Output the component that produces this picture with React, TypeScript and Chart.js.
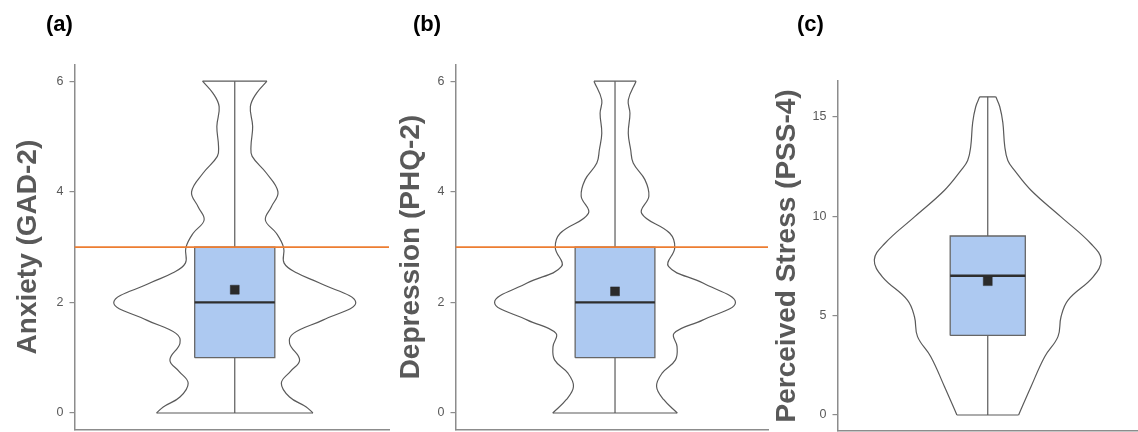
import React, { useEffect, useRef } from "react";
import { Chart, registerables } from "chart.js";

Chart.register(...registerables);
Chart.defaults.font.family = '"Liberation Sans", Arial, sans-serif';

// ---------- data ----------
// violin outlines: y values and relative density width (1 = widest point)
const anxietyDensityY = [0, 0.11, 0.29, 0.54, 0.75, 0.96, 1.26, 1.44, 1.68, 2.0, 2.35, 2.53, 2.71, 2.99, 3.25, 3.49, 3.73, 4.0, 4.34, 4.64, 4.82, 5.18, 5.54, 5.78, 6.0];
const anxietyDensityW = [0.646, 0.591, 0.453, 0.385, 0.459, 0.536, 0.453, 0.486, 0.728, 1.0, 0.701, 0.515, 0.408, 0.404, 0.344, 0.253, 0.303, 0.357, 0.261, 0.144, 0.134, 0.148, 0.129, 0.179, 0.266];

const depressionDensityY = [0, 0.24, 0.48, 0.72, 0.96, 1.2, 1.44, 1.68, 2.0, 2.35, 2.65, 2.99, 3.25, 3.61, 3.92, 4.22, 4.52, 4.76, 5.06, 5.42, 5.66, 6.0];
const depressionDensityW = [0.517, 0.405, 0.345, 0.391, 0.502, 0.515, 0.49, 0.727, 1.0, 0.73, 0.444, 0.496, 0.455, 0.221, 0.281, 0.248, 0.151, 0.13, 0.11, 0.124, 0.11, 0.175];

const stressDensityY = [0, 1.42, 2.93, 3.94, 4.94, 5.78, 6.95, 7.8, 8.6, 9.96, 11.3, 12.3, 12.8, 13.5, 14.7, 15.5, 16];
const stressDensityW = [0.272, 0.381, 0.502, 0.619, 0.646, 0.708, 0.929, 1.0, 0.912, 0.646, 0.381, 0.236, 0.177, 0.15, 0.133, 0.106, 0.071];

// box stats: [min, q1, median, q3, max]
const anxietyBox = [0, 1, 2, 3, 6];
const depressionBox = [0, 1, 2, 3, 6];
const stressBox = [0, 4, 7, 9, 16];

const anxietyMean = 2.23;
const depressionMean = 2.2;
const stressMean = 6.73;

const gadTicks = [0, 2, 4, 6];
const phqTicks = [0, 2, 4, 6];
const pssTicks = [0, 5, 10, 15];

const screeningCutoff = 3;

// ---------- styling ----------
const VIOLIN_HALF = 0.755;
const BOX_HALF = 0.25;
const LINE_GREY = "#5a5a5a";
const AXIS_GREY = "#8c8c8c";
const BOX_FILL = "#adc9f1";
const ORANGE = "#ed7d31";

const panelLabelPlugin = {
  id: "panelLabel",
  afterDraw(chart: any, _args: any, opts: any) {
    const ctx = chart.ctx;
    ctx.save();
    ctx.font = `bold ${opts.size}px "Liberation Sans", Arial, sans-serif`;
    ctx.fillStyle = "#000";
    ctx.textBaseline = "middle";
    ctx.textAlign = "left";
    ctx.fillText(opts.text, opts.x, opts.y);
    ctx.restore();
  },
};

const PANELS = [
  {
    label: "(a)", title: "Anxiety (GAD-2)",
    densY: anxietyDensityY, densW: anxietyDensityW, box: anxietyBox, mean: anxietyMean, ticks: gadTicks,
    cutoff: screeningCutoff as number | null,
    yMin: -0.3, yMax: 6.3,
    lay: { left: 0, width: 390, axisWidth: 74.5, padTop: 64.6, padBottom: 2.4, padRight: 1, titlePad: 14, xMin: -1, xMax: 0.9625, labelX: 46, labelY: 25 },
  },
  {
    label: "(b)", title: "Depression (PHQ-2)",
    densY: depressionDensityY, densW: depressionDensityW, box: depressionBox, mean: depressionMean, ticks: phqTicks,
    cutoff: screeningCutoff as number | null,
    yMin: -0.3, yMax: 6.3,
    lay: { left: 390, width: 380, axisWidth: 65.5, padTop: 64.6, padBottom: 2.4, padRight: 2, titlePad: 7, xMin: -1, xMax: 0.959, labelX: 23, labelY: 25 },
  },
  {
    label: "(c)", title: "Perceived Stress (PSS-4)",
    densY: stressDensityY, densW: stressDensityW, box: stressBox, mean: stressMean, ticks: pssTicks,
    cutoff: null as number | null,
    yMin: -0.8, yMax: 16.8,
    lay: { left: 770, width: 368, axisWidth: 67.5, padTop: 80.9, padBottom: 1.1, padRight: 0, titlePad: 3, xMin: -1, xMax: 1, labelX: 27, labelY: 25 },
  },
];

function buildDatasets(p: any) {
  const n = p.densY.length - 1;
  const left = p.densY.map((y: number, i: number) => ({ x: -p.densW[i] * VIOLIN_HALF, y }));
  const right = p.densY.map((y: number, i: number) => ({ x: p.densW[i] * VIOLIN_HALF, y }));
  const [mn, q1, med, q3, mx] = p.box;
  const base = { showLine: true, pointRadius: 0, pointHoverRadius: 0, fill: false };
  const ds: any[] = [
    { ...base, label: "violin-left", data: left, borderColor: LINE_GREY, borderWidth: 1.2, tension: 0.4, order: 10 },
    { ...base, label: "violin-right", data: right, borderColor: LINE_GREY, borderWidth: 1.2, tension: 0.4, order: 10 },
    { ...base, label: "violin-top", data: [left[n], right[n]], borderColor: LINE_GREY, borderWidth: 1.2, order: 10 },
    { ...base, label: "violin-bottom", data: [left[0], right[0]], borderColor: LINE_GREY, borderWidth: 1.2, order: 10 },
    { ...base, label: "whisker", data: [{ x: 0, y: mn }, { x: 0, y: mx }], borderColor: LINE_GREY, borderWidth: 1.2, order: 8 },
    {
      ...base, label: "box",
      data: [{ x: -BOX_HALF, y: q1 }, { x: BOX_HALF, y: q1 }, { x: BOX_HALF, y: q3 }, { x: -BOX_HALF, y: q3 }, { x: -BOX_HALF, y: q1 }],
      borderColor: "#666666", borderWidth: 1.3, backgroundColor: BOX_FILL, fill: "shape", tension: 0, order: 6,
    },
    { ...base, label: "median", data: [{ x: -BOX_HALF, y: med }, { x: BOX_HALF, y: med }], borderColor: "#2e2e2e", borderWidth: 2.4, order: 4 },
    {
      label: "mean", data: [{ x: 0, y: p.mean }], showLine: false, pointStyle: "rect", pointRadius: 6.3,
      pointBackgroundColor: "#2b2b2b", pointBorderColor: "#2b2b2b", pointBorderWidth: 0.5, order: 2,
    },
  ];
  if (p.cutoff !== null) {
    ds.push({ ...base, label: "cutoff", data: [{ x: p.lay.xMin, y: p.cutoff }, { x: p.lay.xMax, y: p.cutoff }], borderColor: ORANGE, borderWidth: 1.8, order: 1 });
  }
  return ds;
}

function Panel({ p }: { p: any }) {
  const ref = useRef<HTMLCanvasElement | null>(null);
  useEffect(() => {
    if (!ref.current) return;
    const L = p.lay;
    const chart = new Chart(ref.current, {
      type: "scatter",
      data: { datasets: buildDatasets(p) },
      plugins: [panelLabelPlugin as any],
      options: {
        responsive: false,
        animation: false,
        events: [],
        layout: { autoPadding: false, padding: { left: 0, right: L.padRight, top: L.padTop, bottom: L.padBottom } },
        plugins: {
          legend: { display: false },
          tooltip: { enabled: false },
          panelLabel: { text: p.label, x: L.labelX, y: L.labelY, size: 22 },
        } as any,
        scales: {
          x: {
            type: "linear", min: L.xMin, max: L.xMax,
            ticks: { display: false },
            grid: { display: false, drawTicks: false },
            border: { display: true, color: AXIS_GREY, width: 1.5 },
          },
          y: {
            type: "linear", min: p.yMin, max: p.yMax,
            afterBuildTicks: (s: any) => { s.ticks = p.ticks.map((v: number) => ({ value: v })); },
            afterFit: (s: any) => { s.width = L.axisWidth; s.paddingTop = 0; s.paddingBottom = 0; },
            ticks: { color: "#595959", font: { size: 12.5 }, padding: 6 },
            grid: { display: true, drawOnChartArea: false, drawTicks: true, tickLength: 5, color: AXIS_GREY, lineWidth: 1.2 },
            border: { display: true, color: AXIS_GREY, width: 1.5 },
            title: {
              display: true, text: p.title, color: "#595959",
              font: { size: 28, weight: "bold", lineHeight: 1 },
              padding: { top: L.titlePad, bottom: 0 },
            },
          },
        },
      } as any,
    });
    return () => chart.destroy();
  }, [p]);
  return (
    <canvas
      ref={ref}
      width={p.lay.width}
      height={432}
      style={{ position: "absolute", left: p.lay.left, top: 0, width: p.lay.width, height: 432, display: "block" }}
    />
  );
}

export default function App() {
  return (
    <div style={{ position: "fixed", left: 0, top: 0, width: 1138, height: 432, background: "#fff", overflow: "hidden" }}>
      {PANELS.map((p) => (
        <Panel key={p.label} p={p} />
      ))}
    </div>
  );
}
